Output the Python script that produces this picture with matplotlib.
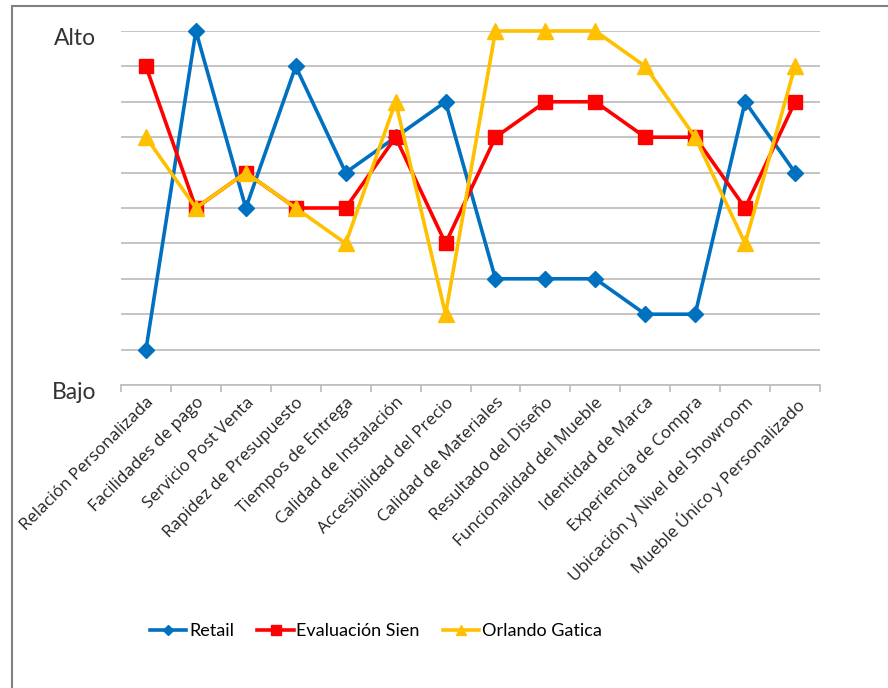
import matplotlib.pyplot as plt
import matplotlib.transforms as mtransforms
from matplotlib.patches import Rectangle

categorias = ["Relación Personalizada", "Facilidades de pago", "Servicio Post Venta",
              "Rapidez de Presupuesto", "Tiempos de Entrega", "Calidad de Instalación",
              "Accesibilidad del Precio", "Calidad de Materiales", "Resultado del Diseño",
              "Funcionalidad del Mueble", "Identidad de Marca", "Experiencia de Compra",
              "Ubicación y Nivel del Showroom", "Mueble Único y Personalizado"]
retail = [1, 10, 5, 9, 6, 7, 8, 3, 3, 3, 2, 2, 8, 6]
sien = [9, 5, 6, 5, 5, 7, 4, 7, 8, 8, 7, 7, 5, 8]
gatica = [7, 5, 6, 5, 4, 8, 2, 10, 10, 10, 9, 7, 4, 9]
nombres = ["Retail", "Evaluación Sien", "Orlando Gatica"]

fig = plt.figure(figsize=(8.88, 6.88), dpi=100)
W, H = 888, 688
ax = fig.add_axes([121/W, 1-385/H, (820-121)/W, (385-31)/H])

x = list(range(len(categorias)))
ax.plot(x, retail, color='#0070C0', lw=2.6, marker='D', ms=8, label=nombres[0], clip_on=False, zorder=3)
ax.plot(x, sien, color='#FF0000', lw=2.6, marker='s', ms=10, label=nombres[1], clip_on=False, zorder=4)
ax.plot(x, gatica, color='#FFC000', lw=2.6, marker='^', ms=11, label=nombres[2], clip_on=False, zorder=5)

ax.set_xlim(-0.5, len(categorias)-0.5)
ax.set_ylim(0, 10)
ax.set_yticks(range(11))
ax.set_yticklabels(['Bajo'] + ['']*9 + ['Alto'], fontsize=16.5, family='Lato', color='#333333')
ax.tick_params(axis='y', length=0, pad=18)
# bajar un poco las etiquetas Alto / Bajo
bajar = mtransforms.ScaledTranslation(0, -4/72, fig.dpi_scale_trans)
for t in ax.get_yticklabels():
    t.set_transform(t.get_transform() + bajar)
ax.yaxis.grid(True, color='#BFBFBF', lw=1.3)
ax.set_axisbelow(True)

ax.set_xticks([i+0.5 for i in range(-1, len(categorias))], minor=False)
ax.set_xticklabels([])
ax.tick_params(axis='x', length=5, color='#BFBFBF', width=1.3)
ax.set_xticks(x, minor=True)
ax.set_xticklabels(categorias, minor=True, rotation=45, ha='right', va='top',
                   rotation_mode='anchor', fontsize=12.2, family='Open Sans', color='#222222')
ax.tick_params(axis='x', which='minor', length=0, pad=7)

for s in ['top', 'right', 'left']:
    ax.spines[s].set_visible(False)
ax.spines['bottom'].set_color('#BFBFBF')
ax.spines['bottom'].set_linewidth(1.3)

ax.legend(loc='center', bbox_to_anchor=(376/W, 1-631/H), bbox_transform=fig.transFigure,
          ncol=3, frameon=False, prop={'family': 'Lato', 'size': 13}, handlelength=2.0,
          columnspacing=1.3, handletextpad=0.15, markerscale=0.7)

fig.add_artist(Rectangle((12/W, -0.1), 2, 1-6/H+0.1, transform=fig.transFigure,
                         fill=False, edgecolor='#808080', lw=1.5))

fig.savefig('out.png', dpi=100)
